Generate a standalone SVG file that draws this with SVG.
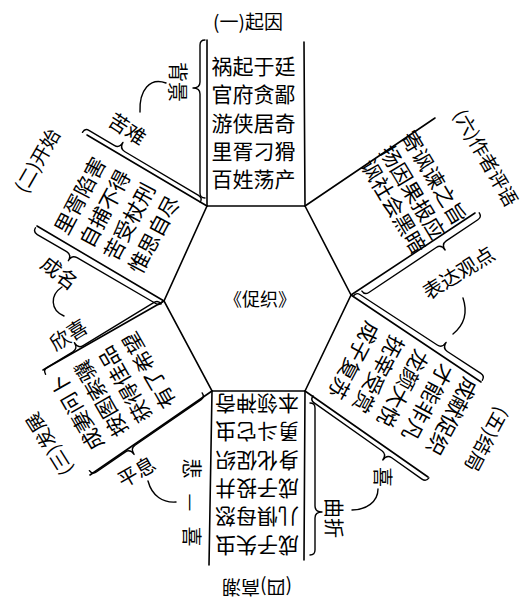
<svg xmlns="http://www.w3.org/2000/svg" width="526" height="600" viewBox="0 0 526 600">
<style>
.t{font-family:"Noto Sans CJK SC","Noto Sans",sans-serif;font-size:21px;fill:#000;text-anchor:middle;dominant-baseline:central}
.h{font-size:19px}
.lb{font-size:20px}
.ln{stroke:#000;stroke-width:1.6;fill:none;stroke-linecap:round}
.br{stroke:#000;stroke-width:1.4;fill:none;stroke-linecap:round;stroke-linejoin:round}
</style>
<rect width="526" height="600" fill="#fff"/>
<g id="center">
<polygon class="ln" points="207,206 305,206 351,295 305,391 212,391 164,301"/>
<text class="t" x="260" y="298" style="font-size:18px">《促织》</text>
</g>
<g id="connectors">
<line class="ln" x1="207" y1="206" x2="207" y2="40"/>
<line class="ln" x1="305" y1="206" x2="304" y2="42"/>
<line class="ln" x1="305" y1="206" x2="435" y2="118"/>
<line class="ln" x1="351" y1="295" x2="475" y2="213"/>
<line class="ln" x1="351" y1="295" x2="481" y2="382"/>
<line class="ln" x1="305" y1="391" x2="428" y2="477"/>
<line class="ln" x1="305" y1="391" x2="304" y2="560"/>
<line class="ln" x1="212" y1="391" x2="209" y2="565"/>
<line class="ln" x1="212" y1="391" x2="90" y2="475"/>
<line class="ln" x1="164" y1="301" x2="43" y2="370"/>
<line class="ln" x1="164" y1="301" x2="37" y2="226"/>
<line class="ln" x1="207" y1="206" x2="87" y2="135"/>
<path class="br" transform="translate(200,198) rotate(-90)" d="M0,5 Q0,0 5,0 L104,0 Q110,0 110,-7 Q110,0 116,0 L153,0 Q158,0 158,5"/>
<path class="br" transform="translate(85,128) rotate(30.7)" d="M0,5 Q0,0 5,0 L34,0 Q40,0 40,-7 Q40,0 46,0 L132,0 Q137,0 137,5"/>
<path class="br" transform="translate(160,306) rotate(210.2)" d="M0,5 Q0,0 5,0 L96,0 Q102,0 102,-7 Q102,0 108,0 L142,0 Q147,0 147,5"/>
<path class="br" transform="translate(43,370) rotate(-31.3)" d="M0,5 Q0,0 5,0 L35,0 Q41,0 41,-7 Q41,0 47,0 L130,0 Q135,0 135,5"/>
<path class="br" transform="translate(205,397) rotate(145.4)" d="M0,5 Q0,0 5,0 L85,0 Q91,0 91,-7 Q91,0 97,0 L132,0 Q137,0 137,5"/>
<path class="br" transform="translate(315,403) rotate(90)" d="M0,5 Q0,0 5,0 L103,0 Q109,0 109,-7 Q109,0 115,0 L147,0 Q152,0 152,5"/>
<path class="br" transform="translate(356,292) rotate(33.1)" d="M0,5 Q0,0 5,0 L97,0 Q103,0 103,-7 Q103,0 109,0 L149,0 Q154,0 154,5"/>
<path class="br" transform="translate(426,482) rotate(215.3)" d="M0,5 Q0,0 5,0 L42,0 Q48,0 48,-7 Q48,0 54,0 L137,0 Q142,0 142,5"/>
<path class="br" transform="translate(482,217) rotate(146.3)" d="M0,5 Q0,0 5,0 L43,0 Q49,0 49,-7 Q49,0 55,0 L136,0 Q141,0 141,5"/>
<path class="br" d="M166,83 C150,77 139,90 140,112"/>
<path class="br" d="M62,287 C50,295 50,310 64,316"/>
<path class="br" d="M148,481 C152,496 163,503 176,502"/>
<path class="br" d="M378,489 C378,502 366,510 352,510"/>
<path class="br" d="M463,298 C468,313 464,325 453,334"/>
</g>
<g id="p1">
<text class="t h" x="248" y="20">(一)起因</text>
<text class="t" x="253.5" y="65">祸起于廷</text>
<text class="t" x="253.5" y="93.3">官府贪鄙</text>
<text class="t" x="253.5" y="121.6">游侠居奇</text>
<text class="t" x="253.5" y="150">里胥刁猾</text>
<text class="t" x="253.5" y="178">百姓荡产</text>
<text class="t lb" x="178" y="82" transform="rotate(90 178 82)">背景</text>
</g>
<g id="p2">
<text class="t h" x="36" y="160" transform="rotate(-60 36 160)">(二)开始</text>
<text class="t" x="79" y="195" transform="rotate(-62 79 195)">里胥陷害</text>
<text class="t" x="103.7" y="208" transform="rotate(-62 103.7 208)">自捕不得</text>
<text class="t" x="128.4" y="221" transform="rotate(-62 128.4 221)">苦受杖刑</text>
<text class="t" x="153" y="234" transform="rotate(-62 153 234)">惟思自尽</text>
<text class="t lb" x="128" y="128" transform="rotate(33 128 128)">苦难</text>
<text class="t lb" x="60" y="272" transform="rotate(38 60 272)">成名</text>
</g>
<g id="p3">
<text class="t h" x="48" y="445" transform="rotate(-122 48 445)">(三)发展</text>
<text class="t" x="76" y="413" transform="rotate(-120 76 413)">成妻问卜</text>
<text class="t" x="100" y="399" transform="rotate(-120 100 399)">按图索骥</text>
<text class="t" x="124" y="385" transform="rotate(-120 124 385)">获得佳品</text>
<text class="t" x="148" y="371" transform="rotate(-120 148 371)">有了希望</text>
<text class="t lb" x="68" y="334" transform="rotate(-32 68 334)">欣喜</text>
<text class="t lb" x="136" y="471" transform="rotate(-30 136 471)">平息</text>
</g>
<g id="p4">
<text class="t h" x="257" y="588" transform="rotate(180 257 588)">(四)高潮</text>
<text class="t" x="257" y="547" transform="rotate(180 257 547)">成子失虫</text>
<text class="t" x="257" y="518" transform="rotate(180 257 518)">儿惧母怒</text>
<text class="t" x="257" y="490" transform="rotate(180 257 490)">成子投井</text>
<text class="t" x="257" y="462" transform="rotate(180 257 462)">身化促织</text>
<text class="t" x="257" y="433" transform="rotate(180 257 433)">勇斗它虫</text>
<text class="t" x="257" y="405" transform="rotate(180 257 405)">本领神奇</text>
<text class="t lb" x="192" y="510" transform="rotate(90 192 510)" style="letter-spacing:15px">悲—喜</text>
<text class="t lb" x="334" y="518" transform="rotate(90 334 518)">曲折</text>
</g>
<g id="p5">
<text class="t h" x="488" y="440" transform="rotate(118 488 440)">(五)结局</text>
<text class="t" x="453" y="417" transform="rotate(118 453 417)">成献促织</text>
<text class="t" x="428.5" y="403" transform="rotate(118 428.5 403)">才能非凡</text>
<text class="t" x="404" y="389" transform="rotate(118 404 389)">龙颜大悦</text>
<text class="t" x="379.5" y="375" transform="rotate(118 379.5 375)">抚宰受赏</text>
<text class="t" x="355" y="361" transform="rotate(118 355 361)">成子复苏</text>
<text class="t lb" x="383" y="477" transform="rotate(90 383 477)">喜</text>
</g>
<g id="p6">
<text class="t h" x="487" y="157" transform="rotate(60 487 157)">(六)作者评语</text>
<text class="t" x="435" y="177" transform="rotate(59 435 177)">寄讽谏之旨</text>
<text class="t" x="413.5" y="191.5" transform="rotate(59 413.5 191.5)">扬因果报应</text>
<text class="t" x="394.5" y="205.5" transform="rotate(59 394.5 205.5)">讽社会黑暗</text>
<text class="t lb" x="458" y="272" transform="rotate(-32 458 272)">表达观点</text>
</g>
</svg>
